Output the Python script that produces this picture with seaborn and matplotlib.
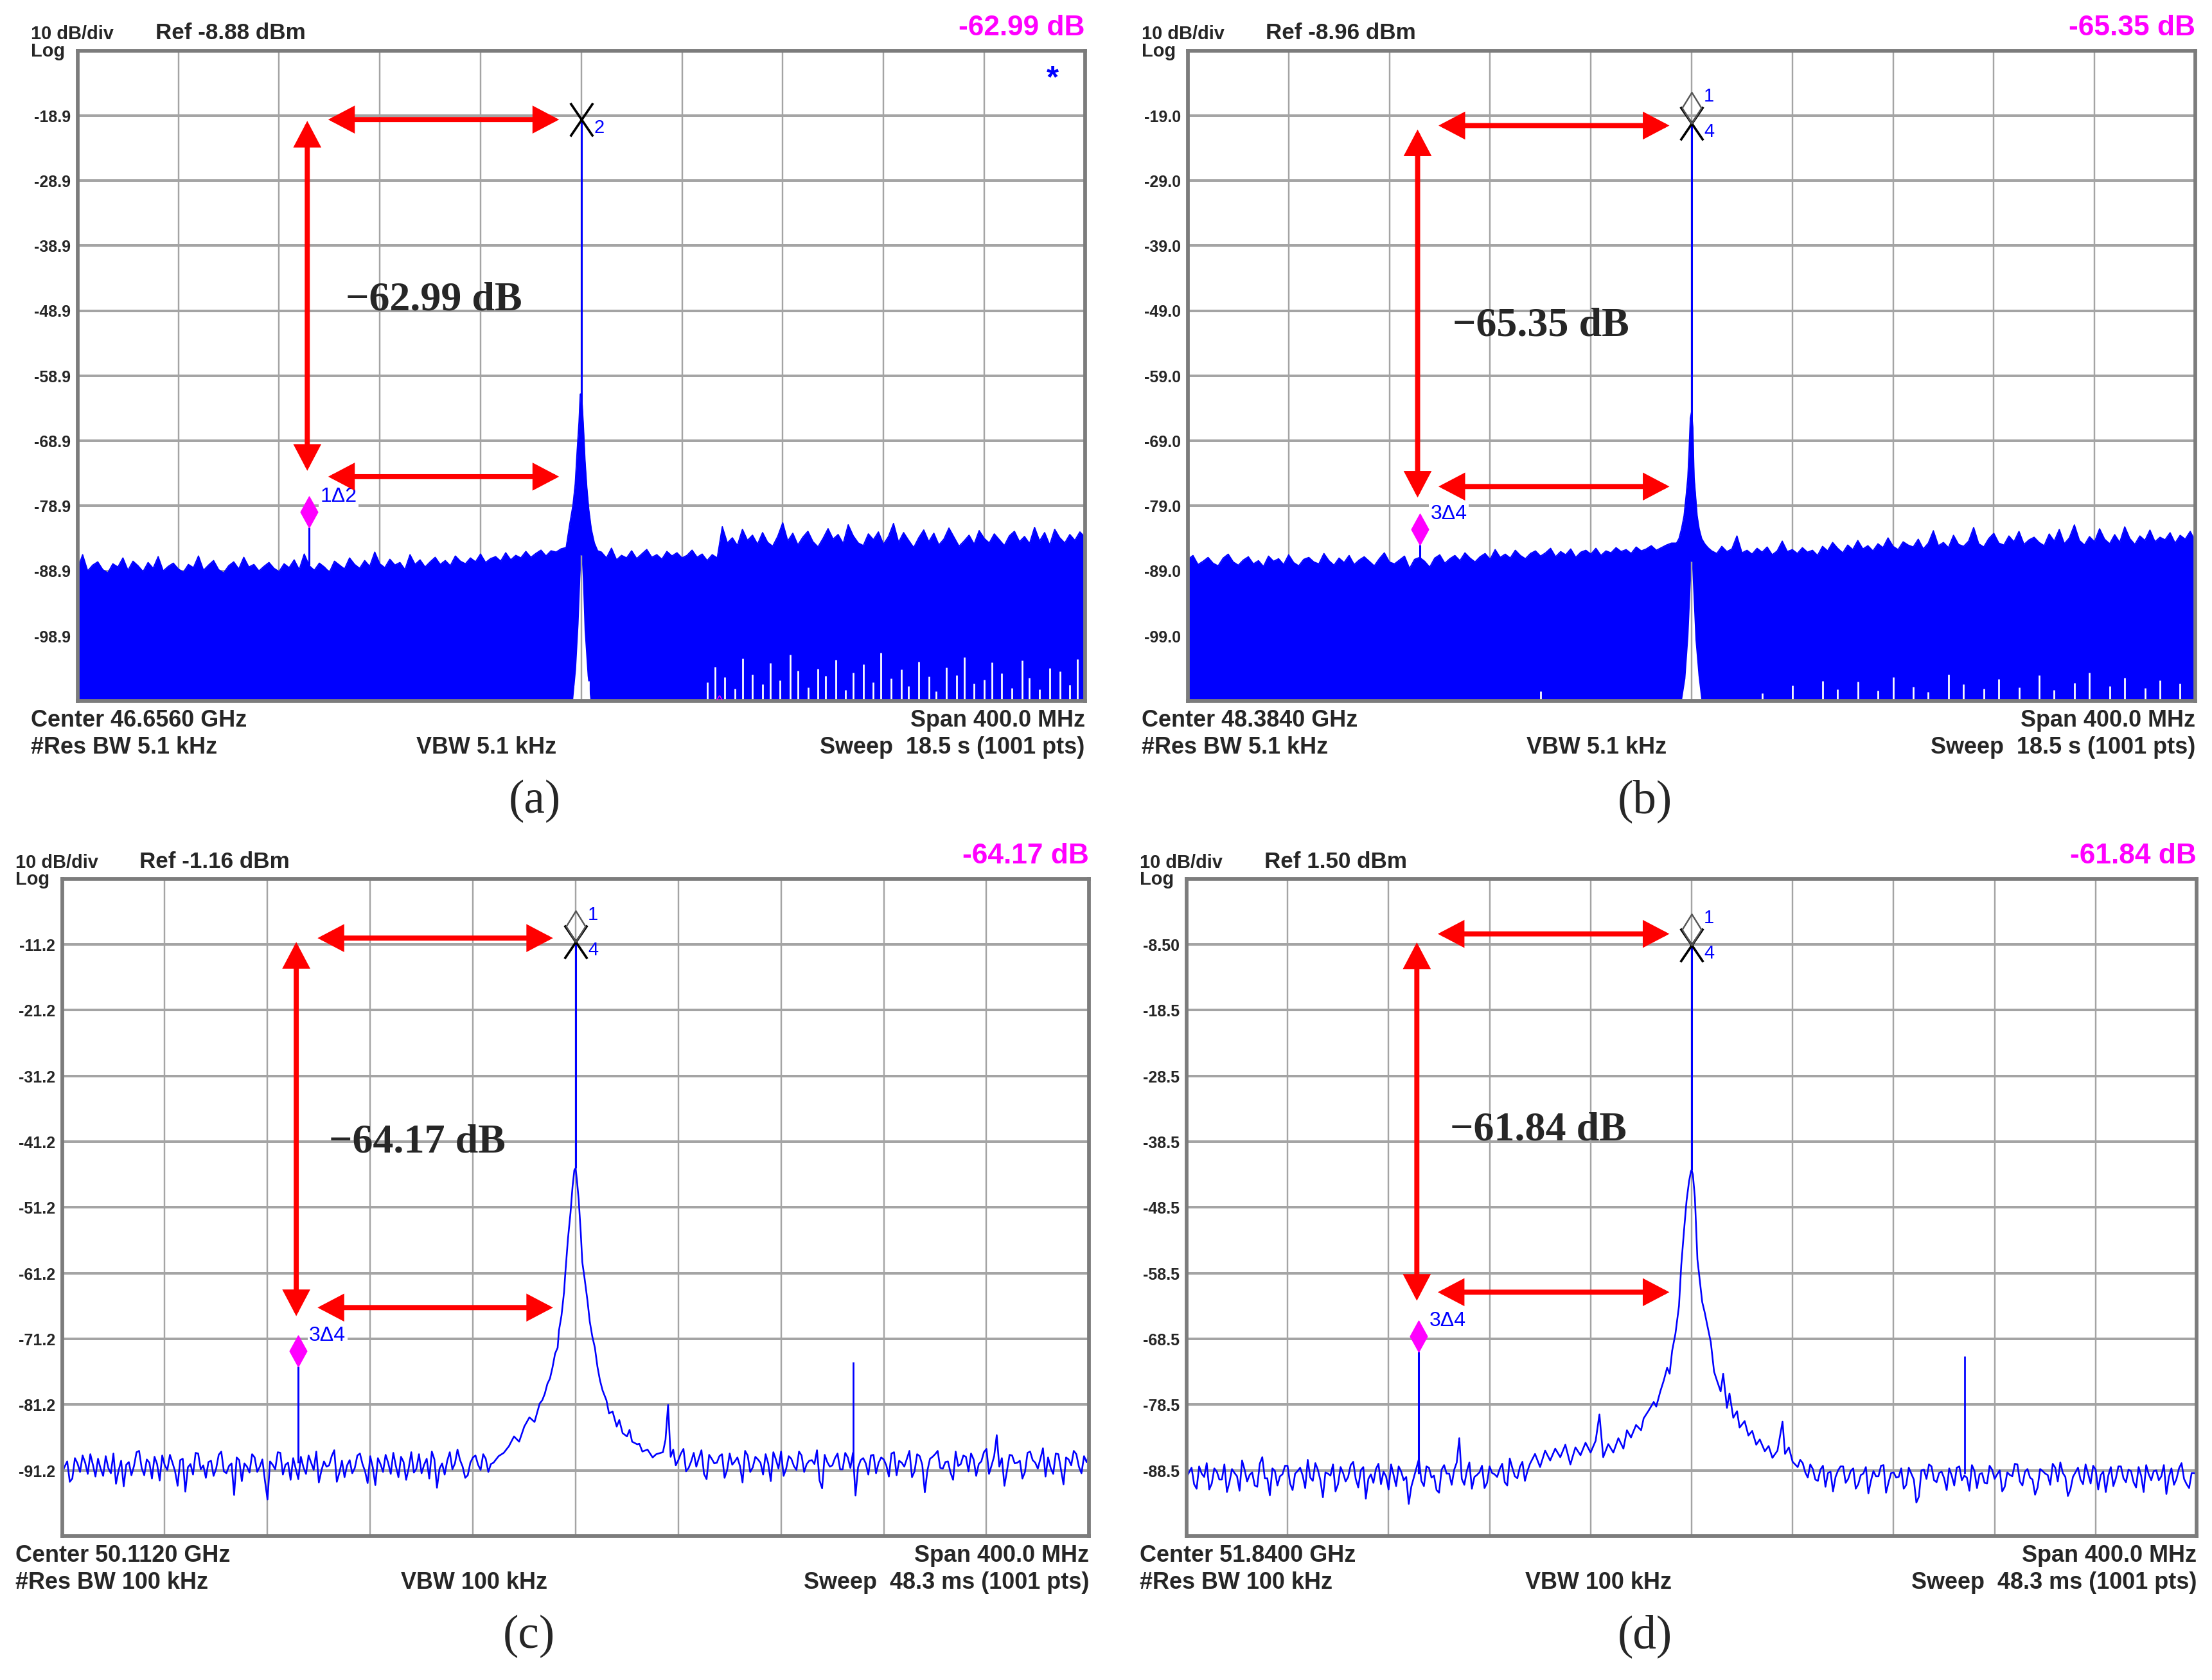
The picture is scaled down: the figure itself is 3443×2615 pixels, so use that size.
import numpy as np
import pandas as pd
import seaborn as sns
import matplotlib.pyplot as plt
from matplotlib.path import Path
from matplotlib.patches import FancyArrowPatch

## Screen text
tags = ['(a)', '(b)', '(c)', '(d)']
ref_level = [-8.88, -8.96, -1.16, 1.50]
ref_text = ['Ref -8.88 dBm', 'Ref -8.96 dBm', 'Ref -1.16 dBm', 'Ref 1.50 dBm']
delta_text = ['-62.99 dB', '-65.35 dB', '-64.17 dB', '-61.84 dB']
big_text = ['\u221262.99 dB', '\u221265.35 dB', '\u221264.17 dB', '\u221261.84 dB']
center_text = ['Center 46.6560 GHz', 'Center 48.3840 GHz', 'Center 50.1120 GHz', 'Center 51.8400 GHz']
rbw_text = ['#Res BW 5.1 kHz', '#Res BW 5.1 kHz', '#Res BW 100 kHz', '#Res BW 100 kHz']
vbw_text = ['VBW 5.1 kHz', 'VBW 5.1 kHz', 'VBW 100 kHz', 'VBW 100 kHz']
sweep_text = ['Sweep  18.5 s (1001 pts)', 'Sweep  18.5 s (1001 pts)',
              'Sweep  48.3 ms (1001 pts)', 'Sweep  48.3 ms (1001 pts)']
span_text = 'Span 400.0 MHz'
ytick_text = [
    ['-18.9', '-28.9', '-38.9', '-48.9', '-58.9', '-68.9', '-78.9', '-88.9', '-98.9'],
    ['-19.0', '-29.0', '-39.0', '-49.0', '-59.0', '-69.0', '-79.0', '-89.0', '-99.0'],
    ['-11.2', '-21.2', '-31.2', '-41.2', '-51.2', '-61.2', '-71.2', '-81.2', '-91.2'],
    ['-8.50', '-18.5', '-28.5', '-38.5', '-48.5', '-58.5', '-68.5', '-78.5', '-88.5'],
]
peak_id = ['2', '4', '4', '4']
ref_id = [None, '1', '1', '1']
delta_id = ['1\u03942', '3\u03944', '3\u03944', '3\u03944']

## Markers (MHz offset from centre, dBm)
peak_level = [-19.5, -20.2, -10.8, -8.6]
spur_freq = -108.0
spur_level = [-82.2, -85.0, -75.4, -70.5]
spur_base = [-88.0, -87.0, -90.0, -89.0]
image_freq = 108.0
image_level = [None, None, -74.7, -71.1]

## Red annotation arrows (dBm)
arrow_x = [-108.8, -100.5, -8.8]
arrow_hi = [-19.5, -20.5, -10.2, -6.9]
arrow_lo = [-74.4, -76.0, -66.4, -61.4]
arrow_v_top = [-19.7, -21.1, -10.8, -8.2]
arrow_v_bot = [-73.5, -77.7, -67.7, -62.7]
big_xy = [(0.266, 0.601), (0.263, 0.562), (0.260, 0.584), (0.261, 0.603)]

## (a) max-hold envelope, 2 MHz steps left/right of carrier
a_left = [-88.6, -86.4, -88.9, -88.0, -87.5, -88.7, -89.2, -87.8, -88.3, -86.9,
          -88.8, -87.4, -88.1, -89.0, -87.6, -88.5, -86.7, -88.9, -88.2, -87.7,
          -88.6, -89.1, -87.9, -88.4, -86.6, -88.8, -88.0, -87.3, -88.7, -89.2,
          -88.1, -87.5, -88.6, -86.8, -88.3, -87.9, -88.9, -88.2, -87.6, -88.5,
          -89.0, -87.8, -88.4, -87.2, -88.7, -86.3, -88.1, -88.8, -87.7, -88.3,
          -89.1, -87.4, -88.0, -88.6, -86.9, -87.9, -88.5, -87.3, -88.2, -86.0,
          -87.8, -88.4, -87.1, -88.0, -87.6, -88.7, -86.4, -87.9, -87.2, -88.3,
          -87.5, -86.8, -87.9, -87.3, -88.1, -86.6, -87.4, -87.8, -86.9, -87.5,
          -86.3, -87.6, -87.0, -86.7, -87.4, -86.1, -87.2, -86.5, -86.9, -85.9,
          -86.8, -86.2, -85.7, -86.6, -85.8, -86.0, -85.5]
a_skirt_freq = [-6, -4.5, -3.3, -2.4, -1.6, -0.9, -0.4, 0, 0.4, 0.9, 1.5, 2.2, 3.0, 4.0, 5.2, 6.5]
a_skirt_level = [-85.3, -81.5, -78.8, -75.5, -70.2, -66.0, -61.7, -61.7, -63.5, -67.0,
                 -72.0, -76.0, -79.5, -82.5, -84.6, -85.8]
a_right = [-86.0, -86.9, -85.4, -87.2, -86.5, -86.9, -85.8, -87.0, -86.3, -85.6,
           -86.8, -86.4, -87.1, -85.9, -86.6, -86.1, -86.9, -86.5, -85.7, -86.8,
           -86.3, -87.3, -86.4, -86.9,
           -82.1, -84.6, -83.8, -85.0, -82.5, -84.2, -83.4, -84.8, -83.0, -84.5,
           -85.1, -83.6, -81.5, -84.3, -83.1, -84.9, -83.7, -82.8, -84.4, -85.2,
           -83.9, -82.4, -84.0, -83.3, -84.7, -81.8, -83.5, -84.6, -85.0, -83.2,
           -84.1, -82.9, -84.8, -83.6, -81.6, -84.5, -83.0, -84.2, -85.3, -83.8,
           -82.6, -84.4, -83.1, -84.9, -84.0, -82.3, -83.7, -85.1, -84.3, -83.4,
           -84.8, -82.7, -83.9, -84.6, -83.2, -84.1, -85.0, -83.5, -82.8, -84.4,
           -83.6, -84.7, -82.2, -84.3, -83.0, -84.9, -82.5, -83.8, -84.6, -83.3,
           -84.2, -82.9, -83.7]
a_gap_freq = [-2.6, 2.8, 50, 53, 57, 61, 64, 68, 72, 75, 79, 83, 86, 90, 94, 97, 101, 105,
              108, 112, 116, 119, 123, 127, 130, 134, 138, 141, 145, 149, 152, 156, 160,
              163, 167, 171, 175, 178, 182, 186, 190, 194, 197]
a_gap_top = [-106.5, -105.8, -106.0, -103.6, -105.2, -107.0, -102.4, -104.8, -106.3, -103.1,
             -105.7, -101.8, -104.2, -106.8, -103.9, -105.0, -102.6, -107.2, -104.5, -103.3,
             -106.0, -101.5, -105.4, -104.0, -106.6, -102.9, -105.1, -107.4, -103.7, -104.9,
             -102.2, -106.2, -105.6, -103.0, -104.6, -106.9, -102.7, -105.3, -107.1, -103.8,
             -104.3, -106.4, -102.5]
a_notch_freq = [-3.4, -2.2, -1.2, -0.5, 0.0, 0.5, 1.2, 2.4, 3.6]
a_notch_top = [-108.88, -104.0, -97.0, -90.0, -86.5, -90.0, -98.0, -105.0, -108.88]

## (b) max-hold envelope
b_left = [-87.2, -86.6, -88.0, -87.5, -86.9, -87.8, -88.2, -87.0, -86.4, -87.6,
          -88.1, -87.3, -86.8, -87.9, -87.4, -88.3, -86.7, -87.5, -87.1, -88.0,
          -86.5, -87.7, -88.2, -87.2, -86.9, -87.6, -87.9, -86.3, -87.4, -88.1,
          -87.0, -87.7, -86.6, -88.0, -87.3, -86.8, -87.5, -88.2, -87.1, -86.2,
          -87.6, -87.9, -87.3, -86.7, -88.6, -87.2, -86.9, -87.5, -88.4, -87.0,
          -86.5, -87.8, -87.1, -86.6, -87.4, -86.2, -87.0, -87.6, -86.8, -86.3,
          -87.2, -85.7, -86.9, -86.4, -87.0, -85.8, -86.6, -87.1, -86.3, -85.9,
          -86.7, -86.2, -85.5, -86.8, -86.0, -86.5, -85.6, -86.9, -86.1, -85.8,
          -86.4, -85.5, -86.6, -85.9, -86.2, -85.4, -86.0, -85.7, -86.3, -85.3,
          -85.9, -85.6, -85.1, -85.8, -85.4, -85.0, -84.7]
b_skirt_freq = [-6, -5, -4, -3, -2.2, -1.5, -1.0, -0.5, 0, 0.5, 1.0, 1.6, 2.2, 3.0, 4.0, 5.2, 6.5]
b_skirt_level = [-84.7, -84.0, -82.5, -80.5, -77.5, -74.6, -70.5, -65.5, -64.5, -67.0,
                 -74.6, -77.5, -80.5, -82.5, -84.0, -84.8, -85.4]
b_right = [-85.9, -86.3, -85.2, -86.0, -85.6, -83.6, -86.2, -85.8, -86.4, -85.5,
           -86.1, -85.3, -86.5, -85.9, -84.4, -86.0, -85.7, -86.3, -85.4, -86.1,
           -85.8, -86.6, -85.2, -85.9, -84.6, -85.5, -86.2, -85.0, -85.7, -84.3,
           -85.6, -85.1, -85.9, -84.8, -85.4, -83.9, -85.2, -85.7, -84.5, -85.0,
           -85.3, -84.1, -85.6, -84.7, -82.8, -85.1, -84.6, -85.4, -83.5, -84.9,
           -85.2, -84.4, -82.3, -84.8, -85.3, -84.0, -83.2, -84.7, -85.0, -83.6,
           -84.5, -82.9, -84.9, -84.2, -83.8, -84.6, -85.1, -83.3, -84.4, -82.6,
           -84.8, -83.9, -81.9, -84.3, -85.0, -83.7, -84.5, -82.5, -84.1, -84.8,
           -83.4, -84.6, -82.2, -84.0, -84.9, -83.6, -84.3, -82.7, -84.5, -83.8,
           -84.2, -83.1, -84.7, -83.5, -84.1, -82.9, -84.4]
b_gap_freq = [-60, 28, 40, 52, 58, 66, 74, 80, 88, 94, 102, 108, 116, 122, 130, 138,
              144, 152, 158, 166, 172, 180, 186, 194]
b_gap_top = [-107.5, -107.8, -106.6, -105.9, -107.2, -106.0, -107.4, -105.3, -106.8, -107.6,
             -104.9, -106.4, -107.1, -105.6, -106.9, -105.0, -107.3, -106.2, -104.6, -106.7,
             -105.4, -107.0, -105.8, -106.3]
b_notch_freq = [-4.0, -2.6, -1.4, -0.6, 0.0, 0.6, 1.4, 2.6, 3.8]
b_notch_top = [-108.96, -105.5, -99.0, -92.0, -87.5, -92.5, -99.5, -105.0, -108.96]

## (c) trace: even-MHz and odd-MHz sweep bins, plus the carrier skirt
c_left = [-91.5, -89.8, -92.4, -90.1, -88.9, -91.7, -90.3, -89.4, -92.0, -90.8,
          -88.6, -91.2, -93.6, -89.9, -90.5, -88.2, -91.9, -90.0, -89.1, -92.7,
          -90.4, -88.8, -91.3, -89.6, -94.4, -90.2, -88.5, -91.0, -92.3, -89.7,
          -90.9, -88.3, -91.6, -90.1, -89.2, -92.8, -90.6, -88.7, -91.4, -89.5,
          -95.6, -90.3, -88.4, -91.8, -90.0, -89.3, -92.5, -90.7, -88.9, -91.1,
          -93.0, -89.8, -90.4, -88.1, -91.5, -92.2, -89.6, -90.8, -88.6, -91.3,
          -89.0, -93.4, -90.2, -88.8, -91.7, -90.5, -89.1, -92.6, -88.4, -90.9,
          -91.6, -89.4, -88.3, -93.8, -90.1, -89.7, -91.0, -88.0, -90.6, -91.9,
          -89.2, -90.3, -88.7, -91.4]
c_left_odd = [-90.6, -92.9, -89.3, -91.4, -90.0, -88.7, -92.1, -90.9, -89.0, -91.6,
              -93.2, -89.7, -90.3, -91.9, -88.4, -90.8, -89.5, -92.4, -90.2, -88.9,
              -91.1, -90.0, -93.5, -89.4, -90.7, -91.8, -88.6, -90.4, -89.9, -92.0,
              -88.8, -91.3, -90.5, -94.9, -89.6, -90.1, -91.5, -89.2, -90.6, -92.7,
              -89.8, -91.0, -88.5, -90.3, -92.6, -90.9, -89.1, -91.7, -90.0, -88.3,
              -91.2, -90.6, -89.0, -92.9, -89.7, -90.4, -91.6, -88.9, -90.2, -93.1,
              -90.7, -89.3, -91.4, -90.0, -88.5, -92.2, -89.9, -90.8, -91.5, -88.7,
              -90.3, -92.4, -89.5, -90.9, -91.8, -88.4, -90.1, -89.6, -92.3, -90.0,
              -88.9, -91.1, -89.4, -90.2]
c_skirt_freq = [-32, -30, -28, -26, -24, -22, -20, -18, -16, -14, -13, -12, -11, -10, -9,
                -8, -7, -6.5, -5.5, -4.5, -4, -3, -2, -1.2, -0.5, 0, 0.5, 1.2, 2, 2.6,
                3.5, 4.6, 5.5, 6.5, 7.5, 8.5, 9.5, 10.5, 12, 13, 14.4, 16, 17, 18.3, 20,
                21, 22, 24, 24.8, 26, 28, 30, 31.4]
c_skirt_level = [-90.0, -89.0, -88.5, -87.5, -86.0, -86.8, -84.5, -83.1, -83.8, -81.0,
                 -80.5, -79.5, -78.0, -77.2, -75.5, -73.4, -72.5, -69.9, -67.6, -64.0,
                 -61.1, -56.0, -52.0, -48.0, -45.5, -45.2, -47.0, -50.0, -55.0, -59.5,
                 -62.0, -65.3, -68.5, -70.8, -72.5, -75.4, -77.5, -79.0, -80.5, -82.5,
                 -82.2, -84.5, -83.5, -85.5, -86.0, -85.0, -86.8, -87.2, -87.1, -88.3,
                 -88.0, -89.2, -88.7]
c_right = [-88.4, -81.2, -88.0, -89.6, -87.9, -90.8, -88.5, -89.3, -91.7, -88.8,
           -90.1, -89.0, -92.3, -88.6, -89.8, -90.5, -88.2, -91.4, -89.1, -90.0,
           -88.7, -92.8, -89.5, -88.3, -90.9, -89.4, -91.1, -88.9, -90.2, -89.6,
           -88.1, -93.9, -89.9, -90.4, -88.6, -91.0, -89.2, -88.5, -90.7, -89.3,
           -91.8, -88.8, -90.0, -89.5, -92.1, -88.4, -89.7, -90.6, -88.2, -91.3,
           -89.0, -94.5, -89.4, -88.7, -90.8, -89.9, -91.5, -88.3, -90.2, -89.1,
           -88.6, -92.0, -89.8, -87.9, -90.4, -85.8, -89.3, -91.2, -88.9, -90.0,
           -92.4, -88.5, -89.6, -90.9, -87.8, -89.2, -91.7, -88.7, -93.3, -89.5,
           -88.2, -90.6, -89.0, -88.8]
c_right_odd = [-86.5, -89.1, -90.4, -88.6, -91.3, -89.8, -90.6, -88.1, -92.5, -89.4,
               -90.0, -88.7, -91.1, -90.3, -89.2, -93.0, -88.9, -90.7, -89.5, -91.8,
               -90.1, -88.4, -90.9, -92.0, -89.0, -90.5, -88.3, -91.4, -89.7, -90.2,
               -92.7, -88.8, -90.6, -89.3, -91.0, -88.5, -90.8, -95.0, -89.6, -90.1,
               -88.9, -91.6, -89.2, -90.4, -88.6, -91.9, -90.0, -89.4, -92.2, -88.7,
               -90.3, -91.2, -89.1, -88.2, -90.9, -89.8, -92.6, -90.5, -88.9, -91.3,
               -89.5, -90.2, -88.4, -91.7, -89.0, -90.6, -93.5, -88.8, -90.1, -89.7,
               -91.4, -88.3, -90.0, -89.4, -92.1, -90.8, -88.6, -91.0, -89.2, -90.4,
               -88.7, -91.6, -89.9]

## (d) trace
d_left = [-89.6, -88.1, -91.3, -89.0, -87.4, -90.5, -88.7, -89.9, -91.8, -88.3,
          -89.4, -87.0, -90.2, -88.8, -91.0, -86.5, -89.7, -88.2, -90.8, -89.1,
          -87.8, -91.5, -88.6, -89.3, -86.9, -90.1, -88.4, -92.6, -89.0, -87.6,
          -90.6, -88.9, -89.5, -87.2, -91.1, -88.0, -89.8, -90.4, -87.5, -88.7,
          -91.4, -89.2, -87.9, -90.0, -93.6, -89.6, -86.8, -90.9, -88.1, -89.3,
          -91.9, -87.7, -89.0, -88.4, -83.6, -90.7, -87.3, -89.5, -88.8, -91.2,
          -87.9, -89.1, -88.3, -90.3, -86.7, -89.4, -88.0, -90.1]
d_left_odd = [-88.8, -90.6, -87.9, -89.5, -91.4, -88.2, -89.9, -87.6, -90.3, -88.9,
              -91.6, -88.4, -89.2, -90.8, -87.5, -89.7, -92.3, -88.6, -89.4, -87.8,
              -90.5, -89.0, -88.1, -91.2, -89.6, -87.4, -90.0, -88.8, -89.3, -91.7,
              -88.0, -90.2, -87.7, -89.8, -88.5, -92.8, -89.1, -88.3, -90.6, -89.4,
              -87.6, -90.9, -88.7, -89.5, -91.0, -88.2, -90.1, -87.9, -89.6, -91.5,
              -88.4, -89.0, -90.7, -87.3, -89.8, -88.6, -91.3, -89.2, -87.8, -90.4,
              -88.9, -89.5, -87.5, -90.8, -88.1, -89.7, -87.2, -88.6]
d_skirt_freq = [-64, -62, -60, -58, -56, -54, -52, -50, -48, -46, -44, -42, -40, -38, -36.5,
                -35, -33, -31, -29, -27, -25.6, -24, -22, -20, -19, -17, -15, -14, -12.4, -11,
                -9.7, -8.7, -7.7, -6.4, -5, -4.1, -3, -2, -1, -0.3, 0, 0.5, 1.3, 2.3, 3.2,
                4.2, 5.2, 6.2, 7.6, 8.9, 10, 11.5, 12.5, 14, 15, 16.5, 18, 19, 21, 22.5,
                24, 25.6, 27, 29, 30.5, 32, 34, 36, 37, 38.5, 40]
d_skirt_level = [-87.5, -86.0, -88.0, -85.5, -87.0, -85.2, -86.5, -84.6, -87.6, -85.0,
                 -86.2, -84.3, -85.8, -84.0, -80.0, -86.5, -84.5, -85.8, -83.6, -85.2,
                 -82.4, -83.5, -81.6, -82.4, -80.6, -79.4, -78.1, -78.8, -76.5, -74.8,
                 -72.9, -73.8, -70.3, -67.7, -63.5, -57.3, -52.0, -47.5, -44.5, -43.1,
                 -42.8, -43.5, -47.0, -56.4, -59.5, -62.9, -64.5, -66.4, -69.0, -73.5,
                 -74.8, -76.5, -73.8, -79.0, -76.8, -80.5, -79.5, -82.0, -81.0, -83.2,
                 -82.5, -84.6, -83.8, -85.6, -84.8, -86.6, -85.5, -81.1, -86.0, -85.0,
                 -87.2]
d_right = [-88.0, -87.4, -89.6, -88.3, -90.1, -87.8, -88.9, -91.7, -88.5, -87.9,
           -89.8, -88.2, -90.6, -89.0, -92.0, -88.6, -89.4, -87.7, -90.3, -88.8,
           -89.5, -91.3, -88.1, -89.9, -92.5, -88.4, -87.6, -90.0, -88.9, -89.7,
           -88.2, -90.8, -87.9, -89.3, -91.6, -88.6, -89.1, -90.4, -87.8, -89.8,
           -88.5, -91.0, -89.2, -87.5, -90.2, -88.7, -89.6, -92.2, -88.3, -89.0,
           -90.7, -88.1, -87.3, -89.5, -91.4, -88.8, -89.9, -87.6, -90.5, -88.4,
           -89.2, -91.8, -88.0, -89.7, -87.9, -90.3, -88.6, -91.1, -89.3, -87.7,
           -90.0, -88.5, -89.4, -92.1, -88.2, -89.8, -87.4, -90.6, -88.9, -89.1]
d_right_odd = [-86.9, -88.8, -87.6, -89.9, -88.4, -91.0, -88.7, -89.5, -87.9, -90.4,
               -88.6, -91.3, -89.2, -88.0, -90.1, -89.4, -87.8, -91.9, -88.9, -89.6,
               -88.2, -90.7, -89.0, -93.4, -88.5, -89.8, -87.9, -90.3, -88.7, -91.5,
               -89.3, -88.1, -90.0, -89.6, -87.7, -91.2, -88.9, -90.5, -88.4, -89.1,
               -91.7, -88.8, -89.4, -87.6, -90.8, -88.3, -89.9, -91.1, -88.6, -89.2,
               -87.5, -90.2, -88.9, -92.4, -89.5, -88.1, -90.6, -89.0, -87.8, -91.4,
               -88.7, -89.3, -90.9, -87.9, -89.7, -88.4, -90.3, -88.0, -91.8, -89.1,
               -88.6, -90.0, -87.7, -89.5, -90.7, -88.2, -89.8, -91.2, -88.9]


def sweep_table(left, skirt_freq, skirt_level, right, left_odd=(), right_odd=()):
    # 2 MHz bins counted in from each screen edge (odd-MHz bins sit in between),
    # the skirt bins keep their own frequencies
    parts = [(-200 + 2 * np.arange(len(left)), left),
             (-199 + 2 * np.arange(len(left_odd)), left_odd),
             (np.asarray(skirt_freq, dtype=float), skirt_level),
             (200 - 2 * np.arange(len(right))[::-1], right),
             (199 - 2 * np.arange(len(right_odd))[::-1], right_odd)]
    df = pd.concat([pd.DataFrame({'freq': f, 'level': list(v)}) for f, v in parts if len(v)])
    return df.sort_values('freq').reset_index(drop=True)


traces = [sweep_table(a_left, a_skirt_freq, a_skirt_level, a_right),
          sweep_table(b_left, b_skirt_freq, b_skirt_level, b_right),
          sweep_table(c_left, c_skirt_freq, c_skirt_level, c_right, c_left_odd, c_right_odd),
          sweep_table(d_left, d_skirt_freq, d_skirt_level, d_right, d_left_odd, d_right_odd)]
filled = [True, True, False, False]
gaps = [(a_gap_freq, a_gap_top), (b_gap_freq, b_gap_top), None, None]
notches = [(a_notch_freq, a_notch_top), (b_notch_freq, b_notch_top), None, None]

# layout of each screen in a 1568 x 1191 canvas (left, right, top, bottom)
W, H = 1568, 1191
frames = [(55, 769, 36, 497), (842, 1556, 36, 497), (44, 772, 623, 1089), (841, 1557, 623, 1089)]

BLUE = '#0000ff'
MAG = '#ff00ff'
RED = '#ff0000'
GRID = '#a4a4a4'

sns.set_style('white')
plt.rcParams['font.family'] = ['Liberation Sans', 'DejaVu Sans']
SERIF = ['Liberation Serif', 'DejaVu Serif']

x_mark = Path([(-0.34, -0.5), (0.34, 0.5), (0.34, -0.5), (-0.34, 0.5)],
              [Path.MOVETO, Path.LINETO, Path.MOVETO, Path.LINETO])
dia_mag = Path([(0, 0), (0.55, 1), (0, 2), (-0.55, 1), (0, 0)],
               [Path.MOVETO, Path.LINETO, Path.LINETO, Path.LINETO, Path.CLOSEPOLY])
dia_open = Path([(0, 0), (0.62, 1), (0, 2), (-0.62, 1), (0, 0)],
                [Path.MOVETO, Path.LINETO, Path.LINETO, Path.LINETO, Path.CLOSEPOLY])


def fpos(x, y):
    return x / W, 1 - y / H


fig = plt.figure(figsize=(W / 100, H / 100), dpi=219.6, facecolor='white')

for i in range(4):
    l, r, t, b = frames[i]
    ax = fig.add_axes([l / W, 1 - b / H, (r - l) / W, (b - t) / H])
    ref = ref_level[i]
    bottom = ref - 100

    # graticule
    for gx in np.arange(-160, 161, 40):
        ax.axvline(gx, color=GRID, lw=0.8, zorder=0.5)
    for k in range(1, 10):
        ax.axhline(ref - 10 * k, color=GRID, lw=1.3, zorder=0.5)

    df = traces[i]
    if filled[i]:
        ax.fill_between(df['freq'], bottom, df['level'], color=BLUE, lw=0, zorder=2)
        sns.lineplot(data=df, x='freq', y='level', ax=ax, color=BLUE, lw=0.6,
                     estimator=None, sort=False, zorder=2)
        nf, nt = notches[i]
        ax.fill_between(nf, bottom, nt, color='white', lw=0, zorder=2.2)
        ax.vlines(0, bottom, max(nt), color=GRID, lw=0.8, zorder=2.3)
        gf, gt = gaps[i]
        ax.vlines(gf, bottom, gt, color='white', lw=0.9, zorder=2.2)
        top_of_skirt = max(nt)
    else:
        sns.lineplot(data=df, x='freq', y='level', ax=ax, color=BLUE, lw=0.85,
                     estimator=None, sort=False, zorder=2)
        top_of_skirt = df['level'].max()
        ax.vlines(image_freq, spur_base[i], image_level[i], color=BLUE, lw=0.9, zorder=2)

    ax.set_xlim(-200, 200)
    ax.set_ylim(bottom, ref)
    ax.set_xlabel('')
    ax.set_ylabel('')
    ax.set_xticks([])
    ax.set_yticks([ref - 10 * k for k in range(1, 10)])
    ax.set_yticklabels(ytick_text[i], fontsize=8.2, fontweight='bold')
    ax.tick_params(axis='y', length=0, pad=3.5)
    for sp in ax.spines.values():
        sp.set_color('#7c7c7c')
        sp.set_linewidth(1.9)
        sp.set_zorder(7)

    # carrier line and the sideband spur
    ax.vlines(0, top_of_skirt, peak_level[i], color=BLUE, lw=1.0, zorder=3)
    ax.vlines(spur_freq, spur_base[i], spur_level[i], color=BLUE, lw=1.0, zorder=3)

    # markers
    ax.plot([0], [peak_level[i]], marker=x_mark, ms=17, mec='black', mfc='none',
            mew=1.2, ls='none', zorder=5)
    if ref_id[i] is not None:
        ax.plot([0], [peak_level[i]], marker=dia_open, ms=31.7, mec='#555555', mfc='none',
                mew=0.8, ls='none', zorder=5)
        ax.annotate(ref_id[i], (0, peak_level[i]), xytext=(6, 14), textcoords='offset points',
                    color=BLUE, fontsize=9.5, ha='left', va='center', zorder=6)
    ax.annotate(peak_id[i], (0, peak_level[i]), xytext=(6.5, -4), textcoords='offset points',
                color=BLUE, fontsize=9.5, ha='left', va='center', zorder=6)
    ax.plot([spur_freq], [spur_level[i]], marker=dia_mag, ms=31.7, mec=MAG, mfc=MAG,
            mew=0.5, ls='none', zorder=5)
    ax.annotate(delta_id[i], (spur_freq, spur_level[i]), xytext=(5.5, 16),
                textcoords='offset points', color=BLUE, fontsize=10.5, ha='left', va='center',
                bbox=dict(facecolor='white', edgecolor='none', pad=0.8), zorder=6)

    # red double-headed arrows
    segs = [((arrow_x[0], arrow_v_top[i]), (arrow_x[0], arrow_v_bot[i])),
            ((arrow_x[1], arrow_hi[i]), (arrow_x[2], arrow_hi[i])),
            ((arrow_x[1], arrow_lo[i]), (arrow_x[2], arrow_lo[i]))]
    for p0, p1 in segs:
        ax.add_patch(FancyArrowPatch(p0, p1, arrowstyle='<|-|>,head_length=9.5,head_width=5.0',
                                     mutation_scale=1, lw=2.6, color=RED, shrinkA=0,
                                     shrinkB=0, joinstyle='miter', zorder=6))
    ax.text(big_xy[i][0], big_xy[i][1], big_text[i], transform=ax.transAxes, family=SERIF,
            fontsize=21, fontweight='bold', ha='left', va='baseline', zorder=6)

    if i == 0:
        ax.text(0.968, 0.957, '*', transform=ax.transAxes, color=BLUE, fontsize=16,
                fontweight='bold', ha='center', va='center')
        ax.text(55, bottom, '^', color=MAG, fontsize=7, ha='center', va='center',
                clip_on=False, zorder=8)

    # header and footer text of the screen
    fig.text(*fpos(l - 33, t - 8), '10 dB/div', fontsize=9.5, fontweight='bold',
             ha='left', va='baseline')
    fig.text(*fpos(l - 33, t + 4), 'Log', fontsize=9.5, fontweight='bold',
             ha='left', va='baseline')
    fig.text(*fpos(l + 55, t - 8), ref_text[i], fontsize=11.5, fontweight='bold',
             ha='left', va='baseline')
    fig.text(*fpos(r, t - 11), delta_text[i], fontsize=14.5, fontweight='bold', color=MAG,
             ha='right', va='baseline')
    fig.text(*fpos(l - 33, b + 18), center_text[i], fontsize=11.8, fontweight='bold',
             ha='left', va='baseline')
    fig.text(*fpos(l - 33, b + 37), rbw_text[i], fontsize=11.8, fontweight='bold',
             ha='left', va='baseline')
    fig.text(*fpos(l + 240, b + 37), vbw_text[i], fontsize=11.8, fontweight='bold',
             ha='left', va='baseline')
    fig.text(*fpos(r, b + 18), span_text, fontsize=11.8, fontweight='bold',
             ha='right', va='baseline')
    fig.text(*fpos(r, b + 37), sweep_text[i], fontsize=11.8, fontweight='bold',
             ha='right', va='baseline')
    fig.text(*fpos((l + r) / 2 - 33, b + 71), tags[i], family=SERIF, fontsize=24,
             ha='center', va='center')

fig.savefig('out.png', dpi=219.6, facecolor='white')
